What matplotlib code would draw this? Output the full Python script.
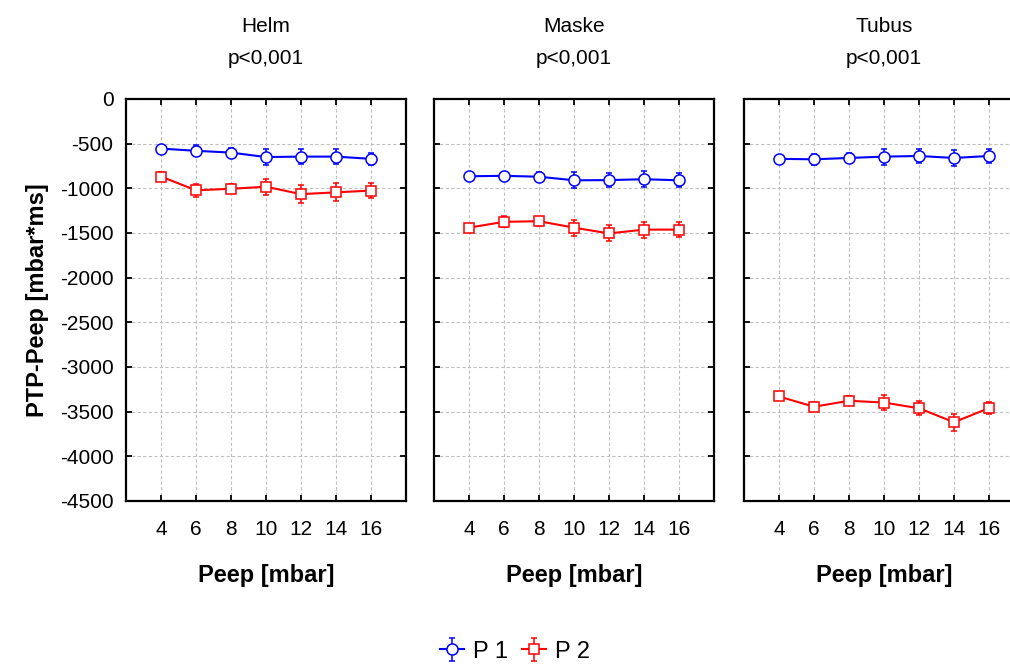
import numpy as np
import matplotlib
matplotlib.use("Agg")
import matplotlib.pyplot as plt

plt.rcParams['font.family'] = ['Liberation Sans', 'DejaVu Sans']
plt.rcParams['axes.unicode_minus'] = False

peep = [4, 6, 8, 10, 12, 14, 16]
groups = ["Helm", "Maske", "Tubus"]
p_text = ["p<0,001", "p<0,001", "p<0,001"]

# mean PTP-Peep per group, P 1 and P 2
p1_mean = {
    "Helm":  [-555, -580, -600, -650, -645, -645, -670],
    "Maske": [-865, -860, -870, -910, -908, -898, -910],
    "Tubus": [-670, -675, -660, -645, -638, -660, -638],
}
p2_mean = {
    "Helm":  [-868, -1022, -1005, -982, -1065, -1045, -1025],
    "Maske": [-1440, -1375, -1368, -1440, -1505, -1462, -1462],
    "Tubus": [-3330, -3445, -3378, -3398, -3462, -3618, -3460],
}
p1_err = {
    "Helm":  [40, 60, 50, 90, 80, 80, 70],
    "Maske": [40, 40, 50, 90, 80, 90, 80],
    "Tubus": [40, 60, 50, 90, 80, 90, 80],
}
p2_err = {
    "Helm":  [50, 70, 50, 90, 100, 100, 80],
    "Maske": [40, 60, 50, 90, 90, 90, 80],
    "Tubus": [40, 50, 50, 80, 80, 95, 70],
}

W, H = 1010, 664
fig = plt.figure(figsize=(W / 100, H / 100), dpi=100)

lefts = [126, 434, 744]
ax_w, top, bottom = 280, 99, 501
fs = 15

handles = []
for i, g in enumerate(groups):
    ax = fig.add_axes([lefts[i] / W, 1 - bottom / H, ax_w / W, (bottom - top) / H])
    h1 = ax.errorbar(peep, p1_mean[g], yerr=p1_err[g], color="#0000ff", lw=1.5,
                     marker="o", ms=8, mfc="white", mec="#0000ff", mew=1.1,
                     elinewidth=1.1, capsize=2, capthick=1.1, zorder=3)
    h2 = ax.errorbar(peep, p2_mean[g], yerr=p2_err[g], color="#ff0000", lw=1.5,
                     marker="s", ms=7.5, mfc="white", mec="#ff0000", mew=1.1,
                     elinewidth=1.1, capsize=2, capthick=1.1, zorder=3)
    if i == 0:
        handles = [h1, h2]
    ax.set_xlim(2, 18)
    ax.set_ylim(-4500, 0)
    ax.set_xticks(peep)
    ax.set_yticks(np.arange(-4500, 1, 500))
    ax.grid(True, color="#c0c0c0", ls=(0, (3, 2)), lw=0.8)
    ax.set_axisbelow(True)
    ax.tick_params(direction="in", length=4, width=1.3, top=True, right=True,
                   labelsize=fs)
    ax.tick_params(axis="y", pad=9)
    ax.tick_params(axis="x", pad=14)
    for s in ax.spines.values():
        s.set_linewidth(1.6)
    if i > 0:
        ax.tick_params(labelleft=False)
    else:
        ax.set_ylabel("PTP-Peep [mbar*ms]", fontsize=17, fontweight="bold", labelpad=8)
    ax.set_xlabel("Peep [mbar]", fontsize=17, fontweight="bold", labelpad=18)
    ax.set_title(g + "\n" + p_text[i], fontsize=fs, linespacing=1.9, pad=25)

fig.legend(handles, ["P 1", "P 2"], loc="lower center", ncol=2, frameon=False,
           fontsize=17, bbox_to_anchor=(0.51, -0.03), handlelength=1.0,
           handletextpad=0.4, columnspacing=0.6)

fig.savefig("out.png", dpi=100)
